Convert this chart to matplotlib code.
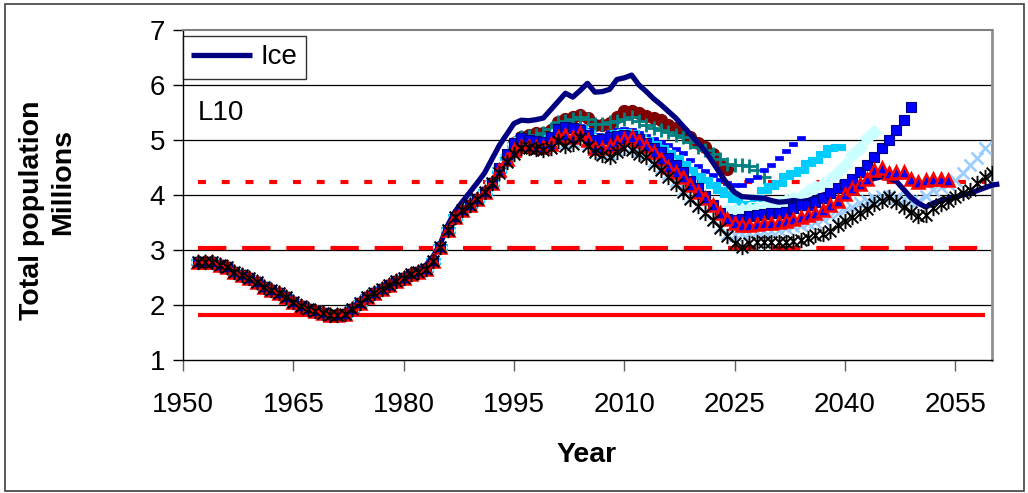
import matplotlib
matplotlib.use("Agg")
import matplotlib.pyplot as plt
from matplotlib.path import Path
from matplotlib.patches import Rectangle

plt.rcParams["font.family"] = ["Liberation Sans", "DejaVu Sans"]

# shared history, 1952-1992
hist_years = list(range(1952, 1993))
hist = [2.78, 2.78, 2.78, 2.72, 2.69, 2.60, 2.55, 2.49, 2.42, 2.33,
        2.28, 2.22, 2.14, 2.06, 1.99, 1.93, 1.90, 1.86, 1.82, 1.82,
        1.84, 1.93, 2.04, 2.15, 2.22, 2.30, 2.37, 2.43, 2.50, 2.57,
        2.60, 2.65, 2.80, 3.06, 3.36, 3.60, 3.72, 3.82, 3.92, 4.05,
        4.22]

# Ice line, 1952-2061
ice = [2.80, 2.80, 2.80, 2.74, 2.71, 2.62, 2.57, 2.51, 2.44, 2.35,
       2.30, 2.24, 2.16, 2.08, 2.01, 1.95, 1.92, 1.88, 1.84, 1.84,
       1.86, 1.95, 2.06, 2.17, 2.24, 2.32, 2.39, 2.45, 2.52, 2.59,
       2.64, 2.72, 2.88, 3.12, 3.45, 3.70, 3.88, 4.05, 4.22, 4.40,
       4.65, 4.90, 5.10, 5.30, 5.36, 5.35, 5.37, 5.40, 5.55, 5.70,
       5.85, 5.78, 5.90, 6.03, 5.87, 5.88, 5.92, 6.10, 6.13, 6.18,
       6.00, 5.88, 5.75, 5.64, 5.52, 5.40, 5.25, 5.10, 4.95, 4.80,
       4.60, 4.40, 4.20, 4.05, 3.97, 3.96, 3.95, 3.94, 3.90, 3.87,
       3.88, 3.90, 3.88, 3.90, 3.95, 4.00, 4.03, 4.07, 4.10, 4.15,
       4.20, 4.25, 4.30, 4.33, 4.30, 4.25, 4.10, 3.95, 3.85, 3.78,
       3.85, 3.90, 3.93, 3.96, 4.00, 4.03, 4.08, 4.13, 4.18, 4.20]
ice_years = list(range(1952, 2062))

# scenario runs from 1993 on
circ = [4.45, 4.70, 4.95, 5.05, 5.10, 5.13, 5.13, 5.18, 5.33, 5.38,
        5.42, 5.45, 5.40, 5.28, 5.27, 5.31, 5.42, 5.53, 5.52, 5.50,
        5.44, 5.40, 5.36, 5.28, 5.22, 5.15, 5.05, 4.95, 4.87, 4.75,
        4.55, 4.47]
plus = [4.45, 4.70, 4.95, 5.05, 5.08, 5.10, 5.12, 5.20, 5.32, 5.35,
        5.38, 5.42, 5.38, 5.30, 5.30, 5.33, 5.35, 5.38, 5.42, 5.35,
        5.28, 5.22, 5.18, 5.15, 5.10, 5.05, 4.97, 4.88, 4.82, 4.75,
        4.65, 4.57, 4.55, 4.55, 4.52, 4.45, 4.33]
bdash = [4.48, 4.72, 4.95, 5.05, 5.05, 5.03, 5.02, 5.10, 5.22, 5.27,
         5.26, 5.25, 5.18, 5.10, 5.10, 5.14, 5.18, 5.20, 5.18, 5.12,
         5.08, 5.02, 4.97, 4.91, 4.84, 4.76, 4.64, 4.52, 4.43, 4.36,
         4.28, 4.22, 4.18, 4.18, 4.27, 4.33, 4.45, 4.55, 4.67, 4.80,
         4.93, 5.04]
cdash = [4.45, 4.70, 4.90, 5.00, 5.00, 4.98, 4.97, 5.03, 5.15, 5.20,
         5.20, 5.22, 5.12, 5.05, 5.05, 5.08, 5.12, 5.15, 5.12, 5.06,
         5.00, 4.92, 4.85, 4.77, 4.68, 4.57, 4.45, 4.35, 4.27, 4.18,
         4.10, 4.02, 3.92, 3.84, 3.80, 3.95, 4.10, 4.16, 4.22, 4.35,
         4.40, 4.45, 4.58, 4.63, 4.75, 4.85, 4.87]
diam = [4.48, 4.72, 4.92, 5.00, 4.97, 4.95, 4.93, 5.02, 5.17, 5.20,
        5.19, 5.15, 5.07, 4.98, 4.99, 5.02, 5.05, 5.07, 5.05, 4.99,
        4.92, 4.82, 4.74, 4.63, 4.50, 4.36, 4.20, 4.07, 3.93, 3.80,
        3.70, 3.72, 3.73, 3.72, 3.74, 3.76, 3.78, 3.82, 3.85, 3.90,
        3.94, 3.97, 4.07, 4.15, 4.20, 4.30, 4.42, 4.55, 4.72, 4.85,
        5.04, 5.15]
lbx = [4.43, 4.63, 4.78, 4.88, 4.88, 4.86, 4.85, 4.88, 5.00, 4.95,
       4.96, 5.06, 4.93, 4.82, 4.77, 4.75, 4.82, 4.88, 4.86, 4.80,
       4.74, 4.62, 4.50, 4.38, 4.25, 4.10, 3.95, 3.80, 3.68, 3.55,
       3.42, 3.30, 3.28, 3.30, 3.31, 3.33, 3.34, 3.35, 3.36, 3.40,
       3.44, 3.46, 3.49, 3.51, 3.56, 3.62, 3.67, 3.72, 3.79, 3.85,
       3.90, 3.95, 3.98, 3.98, 3.95, 3.92, 3.90, 3.90, 3.98, 4.09,
       4.15, 4.20, 4.27, 4.40, 4.55, 4.68, 4.85]
sq = [4.50, 4.75, 4.95, 5.04, 5.00, 4.98, 4.96, 5.05, 5.20, 5.24,
      5.22, 5.18, 5.10, 5.00, 5.02, 5.05, 5.08, 5.10, 5.08, 5.02,
      4.95, 4.85, 4.78, 4.68, 4.55, 4.42, 4.25, 4.12, 3.98, 3.82,
      3.68, 3.56, 3.55, 3.57, 3.62, 3.64, 3.66, 3.67, 3.68, 3.70,
      3.76, 3.82, 3.82, 3.87, 3.95, 4.04, 4.12, 4.20, 4.30, 4.42,
      4.55, 4.70, 4.85, 5.00, 5.18, 5.36, 5.60]
tri = [4.45, 4.65, 4.82, 4.90, 4.90, 4.88, 4.88, 4.92, 5.05, 5.09,
       5.05, 5.13, 5.00, 4.85, 4.86, 4.90, 4.96, 5.02, 5.05, 4.98,
       4.90, 4.78, 4.65, 4.51, 4.42, 4.33, 4.18, 4.05, 3.95, 3.82,
       3.67, 3.57, 3.49, 3.45, 3.45, 3.47, 3.49, 3.50, 3.51, 3.53,
       3.56, 3.60, 3.63, 3.67, 3.72, 3.82, 3.90, 4.02, 4.12, 4.20,
       4.30, 4.45, 4.50, 4.40, 4.42, 4.42, 4.30, 4.24, 4.27, 4.30,
       4.30, 4.27]
ast = [4.40, 4.60, 4.75, 4.85, 4.85, 4.83, 4.82, 4.85, 4.98, 4.90,
       4.92, 5.04, 4.90, 4.78, 4.72, 4.69, 4.78, 4.85, 4.82, 4.75,
       4.69, 4.57, 4.45, 4.32, 4.20, 4.05, 3.92, 3.80, 3.67, 3.55,
       3.40, 3.25, 3.12, 3.05, 3.13, 3.14, 3.15, 3.15, 3.15, 3.15,
       3.17, 3.18, 3.22, 3.27, 3.30, 3.35, 3.45, 3.52, 3.60, 3.67,
       3.75, 3.84, 3.90, 3.96, 3.88, 3.78, 3.70, 3.62, 3.64, 3.76,
       3.83, 3.90, 3.97, 4.03, 4.10, 4.22, 4.32, 4.40]

# reference levels
ref_solid = 1.82
ref_dash = 3.04
ref_dot = 4.24
ref_start, ref_end = 1952, 2059

x_ticks = list(range(1950, 2061, 15))
y_ticks = [1, 2, 3, 4, 5, 6, 7]


def run(vals):
    yrs = hist_years + list(range(1993, 1993 + len(vals)))
    return yrs, hist + vals


asterisk = Path([(-1, -1), (1, 1), (-1, 1), (1, -1), (0, -1.3), (0, 1.3)],
                [Path.MOVETO, Path.LINETO, Path.MOVETO, Path.LINETO,
                 Path.MOVETO, Path.LINETO])
small_dash = [(-1, -0.4), (1, -0.4), (1, 0.4), (-1, 0.4), (-1, -0.4)]

fig = plt.figure(figsize=(10.28, 4.93), dpi=100)
ax = fig.add_axes([183 / 1028, 133 / 493, 809 / 1028, 330 / 493])

# outer chart frame
fig.patches.append(Rectangle((5 / 1028, 2 / 493), 1019 / 1028, 487 / 493,
                             transform=fig.transFigure, fill=False,
                             edgecolor="#404040", lw=1.2))

for y in y_ticks[1:-1]:
    ax.axhline(y, color="black", lw=0.9, zorder=1)

ax.hlines(ref_solid, ref_start, ref_end, color="red", lw=3, zorder=2)
ax.hlines(ref_dash, ref_start, ref_end, color="red", lw=3,
          linestyles=(0, (6.8, 3.8)), zorder=2)
ax.hlines(ref_dot, ref_start, ref_end, color="red", lw=3,
          linestyles=(0, (1.9, 3.8)), zorder=2)

x, y = run(circ)
ax.plot(x, y, ls="none", marker="o", ms=8.5, mfc="#800000", mec="#800000", zorder=3)
x, y = run(plus)
ax.plot(x, y, ls="none", marker="+", ms=10, mew=2, mec="#008080", zorder=3)
x, y = run(bdash)
ax.plot(x, y, ls="none", marker=small_dash, ms=6, mfc="#0000FF", mec="#0000FF",
        mew=0.5, zorder=3)
x, y = run(cdash)
ax.plot(x, y, ls="none", marker=small_dash, ms=10, mfc="#00CCFF", mec="#00CCFF",
        mew=0.8, zorder=3)
x, y = run(diam)
ax.plot(x, y, ls="none", marker="D", ms=7.5, mfc="#CCFFFF", mec="#CCFFFF", zorder=3)
x, y = run(lbx)
ax.plot(x, y, ls="none", marker="x", ms=9, mew=1.8, mec="#99CCFF", zorder=3)

ice_line, = ax.plot(ice_years, ice, color="#000080", lw=3.8, zorder=4,
                    clip_on=False, label="Ice", solid_capstyle="butt")

x, y = run(sq)
ax.plot(x, y, ls="none", marker="s", ms=7.5, mfc="#0000FF", mec="#000080",
        mew=0.8, zorder=5)
x, y = run(tri)
ax.plot(x, y, ls="none", marker="^", ms=8.5, mfc="#0000FF", mec="#FF0000",
        mew=1.8, zorder=6)
x, y = run(ast)
ax.plot(x, y, ls="none", marker=asterisk, ms=11, mfc="none", mec="black",
        mew=1.4, zorder=7)

ax.set_xlim(1950, 2060)
ax.set_ylim(1, 7)
ax.set_xticks(x_ticks)
ax.set_xticklabels([str(t) for t in x_ticks])
ax.set_yticks(y_ticks)
ax.tick_params(axis="both", labelsize=20, direction="out", length=7, width=1)
ax.tick_params(axis="x", colors="#606060", labelcolor="black", length=8, pad=15)
ax.tick_params(axis="y", pad=6)

for side in ("left", "bottom"):
    ax.spines[side].set_color("black")
    ax.spines[side].set_linewidth(1)
ax.spines["top"].set_color("#808080")
ax.spines["top"].set_linewidth(1.5)
ax.spines["right"].set_color("#909090")
ax.spines["right"].set_linewidth(2)

ax.text(1952, 5.5, "L10", fontsize=20, va="center", ha="left")

leg = ax.legend(handles=[ice_line], loc="upper left", bbox_to_anchor=(0.0, 0.982),
                borderaxespad=0, fontsize=20, frameon=True, fancybox=False,
                handlelength=2.2, handletextpad=0.3, borderpad=0.3)
leg.get_frame().set_edgecolor("black")
leg.get_frame().set_linewidth(1)
leg.set_zorder(10)

fig.text(32 / 1028, 1 - 210 / 493, "Total population", rotation=90,
         fontsize=20.5, fontweight="bold", ha="center", va="center")
fig.text(63 / 1028, 1 - 182 / 493, "Millions", rotation=90,
         fontsize=20.5, fontweight="bold", ha="center", va="center")
fig.text(587 / 1028, 1 - 455 / 493, "Year", fontsize=20.5, fontweight="bold",
         ha="center", va="center")

fig.savefig("out.png", dpi=100)
